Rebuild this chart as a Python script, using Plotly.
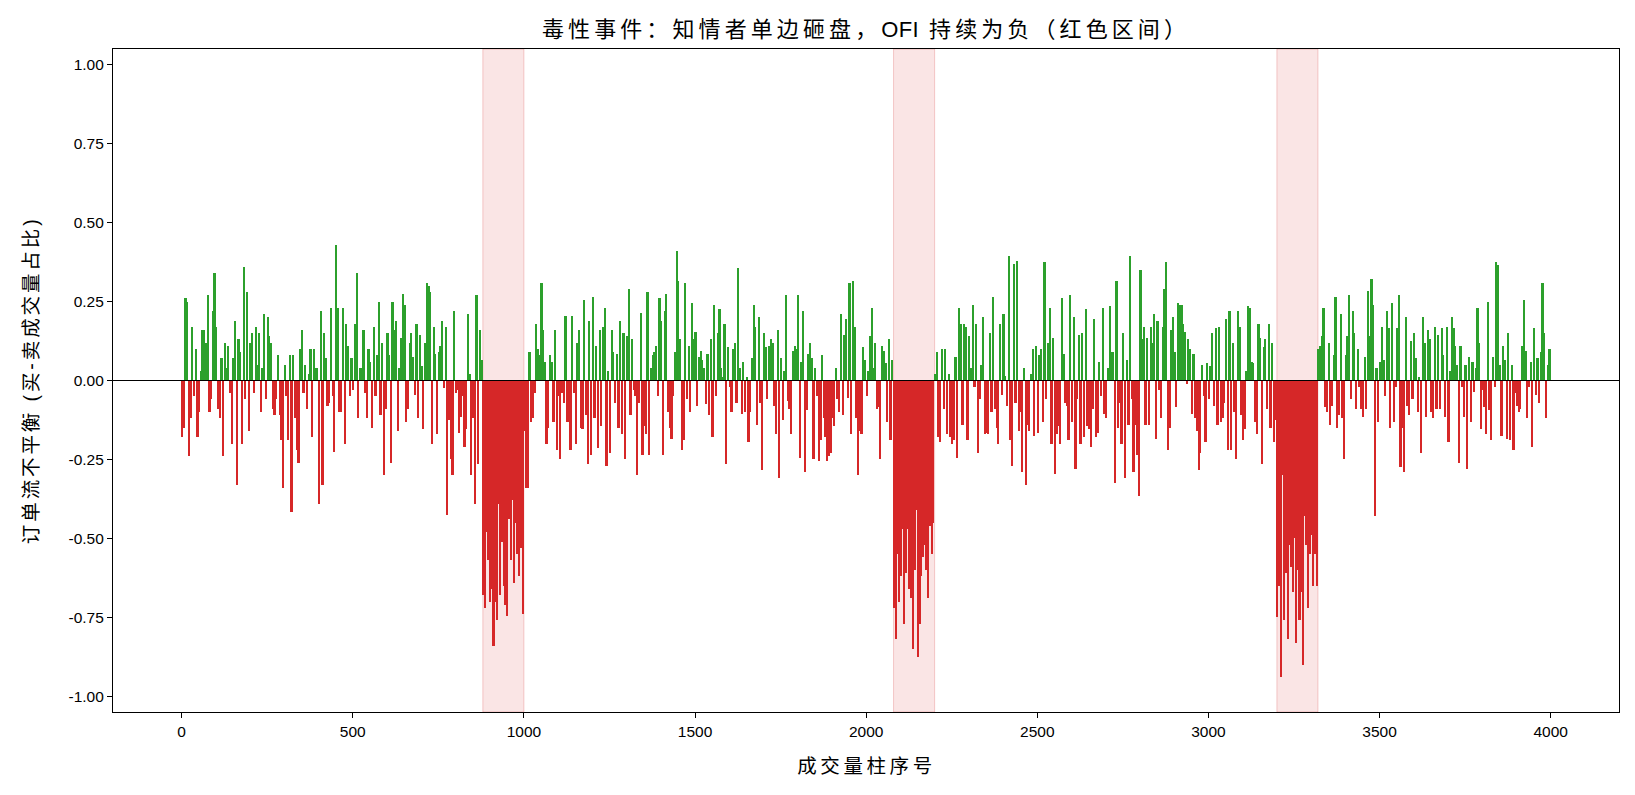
import plotly.graph_objects as go

# ---------------- data (order-flow imbalance, one value per 5 volume bars) ----------------
BIN = 5  # each value summarises 5 consecutive volume bars

seg_a = [  # bars 0 .. 875
    -0.18, -0.15, 0.26, 0.25, -0.24, -0.12, 0.17, -0.05, 0.10, -0.18,
    -0.10, 0.03, 0.16, 0.16, 0.12, 0.27, -0.10, -0.06, 0.22, 0.34,
    0.17, -0.09, -0.12, 0.07, -0.24, 0.12, 0.04, 0.11, -0.04, -0.20,
    0.07, 0.19, -0.33, 0.13, 0.09, -0.20, 0.36, -0.06, 0.28, -0.16,
    0.12, 0.15, -0.04, 0.17, 0.05, 0.15, -0.10, 0.04, 0.21, -0.06,
    0.20, 0.14, 0.12, -0.09, -0.11, -0.06, 0.08, -0.11, -0.19, -0.34,
    0.05, -0.05, -0.19, 0.08, -0.415, 0.08, -0.12,
    -0.22, -0.26, 0.10, 0.16, -0.04, 0.05, -0.09, 0.02, 0.10, -0.18,
    0.10, 0.04, 0.04, -0.39, 0.22, -0.33, 0.15, 0.07, -0.08, -0.07,
    0.23, -0.05, -0.225, 0.43, 0.23, -0.10, -0.10, 0.23, -0.20, 0.18,
    0.11, -0.05, 0.07, -0.03, 0.18, 0.34, -0.12, 0.04, 0.04, 0.16,
    -0.04, -0.12, 0.10, 0.06, -0.15, 0.17, -0.05, 0.08, 0.25, -0.11,
    0.12, -0.30, -0.09, 0.15, 0.08, -0.26, 0.25, 0.16, 0.19, -0.16,
    0.04, 0.135, 0.275, 0.24, -0.13, -0.09, 0.12,
    0.15, 0.075, -0.045, 0.18, -0.12, 0.145, 0.045, -0.155, 0.12, 0.31,
    0.30, 0.28, -0.20, 0.17, 0.085, -0.17, 0.09, 0.11, 0.19, -0.025,
    0.17, -0.425, -0.125, -0.25, -0.30, 0.22, -0.04, -0.03, -0.165, -0.115,
    -0.05, -0.21, -0.155, 0.21, 0.02, -0.30, -0.12, -0.39, 0.27, -0.265,
    0.16, 0.065,
]
toxic_1 = [  # bars 880 .. 995
    -0.68, -0.72, -0.48, -0.57, -0.70, -0.66, -0.84, -0.70, -0.76, -0.39,
    -0.68, -0.51, -0.65, -0.71, -0.745, -0.44, -0.57, -0.38, -0.64, -0.45,
    -0.55, -0.62, -0.53, -0.74,
]
seg_b = [  # bars 1000 .. 2075
    -0.16, -0.34, -0.34, 0.09, -0.13, -0.12, -0.04, 0.18, 0.10, 0.08,
    0.31, 0.16, 0.06, -0.20, -0.15, 0.08, 0.06, -0.13, 0.16, -0.22,
    -0.05, -0.25, -0.04, -0.07, 0.205, -0.13, -0.13, -0.22, 0.205, -0.04,
    -0.20, 0.12, 0.16, -0.15, -0.155, 0.255, -0.11, -0.265, 0.19, -0.235,
    0.265, -0.12, 0.11, -0.215, 0.16, -0.145, 0.17, 0.23, -0.27, 0.03,
    -0.23, 0.16, 0.09, -0.07, 0.085, -0.15, 0.19, -0.17, 0.15, -0.25,
    0.14, 0.29, -0.11, 0.13, -0.03, -0.05, -0.30,
    -0.07, 0.215, -0.235, -0.145, -0.17, 0.28, -0.235, 0.04, 0.08, 0.09,
    0.11, -0.05, 0.26, 0.19, -0.235, 0.22, 0.275, -0.10, -0.15, -0.185,
    -0.05, 0.09, 0.41, 0.315, 0.13, -0.22, -0.19, 0.31, -0.06, 0.11,
    -0.10, 0.245, 0.13, 0.155, -0.08, 0.075, 0.095, 0.065, 0.04, -0.075,
    0.085, -0.11, 0.13, -0.18, 0.24, -0.05, 0.15, 0.225, 0.04, 0.01,
    0.18, -0.265, 0.105, -0.02, -0.10, 0.10, 0.12, -0.07, 0.355, 0.04,
    -0.105, 0.06, -0.10, 0.01, -0.195, -0.10, 0.07,
    0.24, 0.17, -0.14, 0.20, -0.07, -0.285, 0.15, 0.105, -0.06, 0.11,
    0.13, 0.12, -0.08, -0.17, 0.16, -0.31, 0.07, -0.125, 0.03, 0.27,
    -0.065, -0.09, -0.17, 0.095, 0.11, 0.10, 0.27, -0.245, 0.06, 0.22,
    -0.29, -0.095, 0.085, 0.12, 0.07, -0.25, 0.04, -0.05, -0.255, -0.19,
    0.08, -0.12, -0.18, -0.255, -0.24, -0.23, -0.12, -0.145, 0.04, -0.06,
    -0.10, 0.21, -0.11, 0.145, 0.195, -0.055, 0.31, -0.17, 0.315, 0.17,
    -0.12, -0.30, -0.16, -0.17, 0.105, 0.065,
    -0.05, 0.03, 0.14, 0.23, 0.04, 0.12, -0.09, -0.085, -0.25, 0.11,
    0.095, 0.055, -0.13, 0.13, -0.19, 0.065,
]
toxic_2 = [  # bars 2080 .. 2195
    -0.72, -0.82, -0.55, -0.70, -0.62, -0.47, -0.77, -0.61, -0.47, -0.66,
    -0.69, -0.85, -0.60, -0.41, -0.875, -0.77, -0.62, -0.56, -0.52, -0.60,
    -0.69, -0.46, -0.55, -0.45,
]
seg_c = [  # bars 2200 .. 3195
    0.02, 0.09, -0.18, -0.195, 0.10, -0.09, 0.10, -0.17, 0.02, -0.18,
    -0.20, -0.19, 0.075, -0.245, 0.23, 0.18, -0.14, 0.18, 0.17, -0.19,
    0.14, 0.04, 0.24, -0.02, 0.18, -0.23, -0.06,
    0.05, 0.20, -0.17, -0.165, -0.17, 0.15, -0.10, 0.265, -0.09, -0.15,
    -0.20, 0.18, -0.045, 0.21, 0.015, -0.08, 0.395, -0.19, -0.27, 0.37,
    -0.07, 0.38, -0.16, -0.10, -0.29, 0.04, -0.33, -0.14, -0.16, 0.02,
    0.10, -0.175, 0.11, -0.165, 0.08, 0.10, -0.13, 0.375, -0.06, 0.12,
    0.23, -0.20, 0.135, -0.295, -0.17, -0.145, -0.20, 0.26, 0.085, -0.07,
    -0.08, -0.19, 0.27, -0.13, 0.20, -0.28, -0.06, 0.145, -0.20, 0.15,
    -0.18, 0.225, -0.145, -0.155, -0.21, -0.09, 0.195,
    -0.18, -0.165, 0.06, -0.05, 0.23, -0.105, -0.12, 0.04, 0.235, 0.09,
    0.09, -0.325, 0.315, -0.15, -0.07, -0.20, 0.15, -0.31, 0.065, -0.14,
    0.395, -0.06, -0.29, -0.14, -0.235, -0.365, 0.35, 0.13, 0.17, -0.14,
    0.135, -0.14, 0.17, 0.12, 0.21, -0.185, 0.19, -0.03, -0.12, 0.17,
    0.29, 0.375, -0.22, -0.15, 0.16, 0.20, 0.09, -0.085, 0.245, 0.24,
    0.24, 0.18, 0.155, -0.01, 0.13, 0.10, -0.105, 0.085, -0.12, -0.16,
    -0.285, -0.23, 0.05, -0.05, -0.195, 0.055,
    -0.06, 0.046, 0.15, -0.08, 0.165, -0.14, 0.17, -0.13, -0.12, -0.07,
    0.195, -0.22, 0.22, -0.22, 0.12, -0.10, -0.25, 0.22, 0.17, -0.11,
    -0.19, -0.155, 0.03, 0.235, 0.23, 0.06, 0.055, -0.13, -0.17, 0.18,
    0.135, -0.265, 0.105, 0.13, -0.09, 0.18, -0.15, 0.12, -0.195, -0.125,
]
toxic_3 = [  # bars 3200 .. 3315
    -0.75, -0.65, -0.94, -0.30, -0.76, -0.61, -0.82, -0.52, -0.59, -0.67,
    -0.50, -0.83, -0.60, -0.76, -0.67, -0.90, -0.43, -0.52, -0.72, -0.55,
    -0.49, -0.65, -0.55, -0.65,
]
seg_d = [  # bars 3320 .. 3995
    0.10, 0.11, 0.14, 0.23, -0.085, -0.10, 0.12, -0.14, -0.08, 0.08,
    0.265, -0.15, -0.11, 0.21, -0.12, -0.25, 0.08, 0.14, 0.27, -0.06,
    0.22, 0.15, -0.09, 0.10, -0.02, -0.09, -0.115, 0.075, -0.09, 0.285,
    0.14, 0.32, 0.24, -0.43, 0.04, -0.13, 0.06, 0.17, 0.065, -0.05,
    0.22, 0.165, -0.15, 0.245, -0.13, -0.02, 0.165, 0.27, -0.275, -0.15,
    -0.29, 0.20, -0.08, -0.11, 0.125, -0.06, 0.15, 0.07, -0.10, 0.01,
    -0.23, 0.20, 0.12, -0.115, 0.16, 0.13, -0.10,
    -0.12, 0.17, -0.09, 0.145, -0.09, 0.165, 0.08, -0.115, 0.17, -0.195,
    0.03, 0.20, 0.165, 0.11, 0.05, -0.26, 0.11, -0.02, -0.115, 0.05,
    -0.28, 0.075, -0.13, 0.06, -0.035, 0.04, 0.23, 0.12, -0.155, -0.03,
    -0.085, -0.17, 0.25, -0.095, -0.19, 0.075, -0.02, 0.375, 0.365, 0.05,
    -0.175, 0.11, 0.065, -0.185, 0.15, -0.19, 0.05, -0.22, -0.04, -0.08,
    -0.10, -0.09, 0.11, 0.255, 0.095, -0.12, -0.02, 0.06, -0.21, 0.165,
    -0.045, 0.07, -0.07, 0.09, 0.31, 0.15, -0.12, 0.05, 0.10,
]

segment_starts = [0, 880, 1000, 2080, 2200, 3200, 3320]
segment_values = [seg_a, toxic_1, seg_b, toxic_2, seg_c, toxic_3, seg_d]
toxic_windows = [(880, 1000), (2080, 2200), (3200, 3320)]

x_ticks = [0, 500, 1000, 1500, 2000, 2500, 3000, 3500, 4000]
y_ticks = [-1.0, -0.75, -0.5, -0.25, 0.0, 0.25, 0.5, 0.75, 1.0]

TITLE_PARTS = ["毒性事件：知情者单边砸盘，", "OFI", " 持续为负（红色区间）"]
X_LABEL = "成交量柱序号"
Y_LABEL = "订单流不平衡 (买-卖成交量占比)"

GREEN = "#2ca02c"
RED = "#d62728"
FONT = "Liberation Sans, Arial, Noto Sans CJK SC, sans-serif"

# ---------------- build ----------------
xs, ys = [], []
for start, vals in zip(segment_starts, segment_values):
    for i, v in enumerate(vals):
        xs.append(start + BIN * i + (BIN - 1) / 2)
        ys.append(v)
colors = [GREEN if v > 0 else RED for v in ys]

# latin run keeps normal spacing, CJK runs get the wider spacing of the reference font
title_text = (TITLE_PARTS[0]
              + "<span style='letter-spacing:0.3px'>" + TITLE_PARTS[1] + "</span>"
              + TITLE_PARTS[2])

fig = go.Figure()
fig.add_trace(go.Bar(
    x=xs, y=ys, width=BIN,
    marker=dict(color=colors, line=dict(width=0)),
    hoverinfo="skip", showlegend=False,
))

for a, b in toxic_windows:
    fig.add_shape(type="rect", xref="x", yref="paper", x0=a, x1=b, y0=0, y1=1,
                  fillcolor="rgba(214,39,40,0.12)",
                  line=dict(color="rgba(214,39,40,0.22)", width=1), layer="below")

fig.add_shape(type="line", xref="paper", yref="y", x0=0, x1=1, y0=0, y1=0,
              line=dict(color="black", width=1.2), layer="above")

fig.update_layout(
    width=1635, height=795, autosize=False,
    margin=dict(l=113, r=16, t=49, b=83),
    paper_bgcolor="white", plot_bgcolor="white",
    font=dict(family=FONT, size=15.5, color="black"),
    bargap=0,
    title=dict(text=title_text, x=0.5, xref="paper", xanchor="center",
               y=1 - 29 / 795, yref="container", yanchor="middle",
               font=dict(family=FONT, size=22, color="black")),
    annotations=[
        dict(text=X_LABEL, xref="paper", yref="paper", x=0.5, y=0,
             xanchor="center", yanchor="middle", yshift=-54, showarrow=False,
             font=dict(family=FONT, size=19.5, color="black")),
        dict(text=Y_LABEL, xref="paper", yref="paper", x=0, y=0.5,
             xanchor="center", yanchor="middle", xshift=-83, textangle=-90,
             showarrow=False, font=dict(family=FONT, size=19.5, color="black")),
    ],
)
fig.update_xaxes(range=[-200.5, 4199.5], tickvals=x_ticks,
                 ticktext=[str(t) for t in x_ticks],
                 showgrid=False, zeroline=False, showline=True, linecolor="black",
                 linewidth=1.1, mirror=True, ticks="outside", ticklen=5,
                 tickcolor="black", tickwidth=1.1)
fig.update_yaxes(range=[-1.05, 1.05], tickvals=y_ticks,
                 ticktext=[f"{t:.2f}" for t in y_ticks],
                 showgrid=False, zeroline=False, showline=True, linecolor="black",
                 linewidth=1.1, mirror=True, ticks="outside", ticklen=5,
                 tickcolor="black", tickwidth=1.1)

spacing_js = """
document.body.style.margin='0';
var t = document.querySelector('.gtitle'); if (t) { t.style.letterSpacing='4.1px'; }
var a = document.querySelectorAll('.annotation-text');
if (a.length > 0) { a[0].style.letterSpacing='3.6px'; }
if (a.length > 1) { a[1].style.letterSpacing='2.9px'; }
"""

fig.write_html("out.html", include_plotlyjs=True,
               config={"displayModeBar": False},
               post_script=spacing_js)
